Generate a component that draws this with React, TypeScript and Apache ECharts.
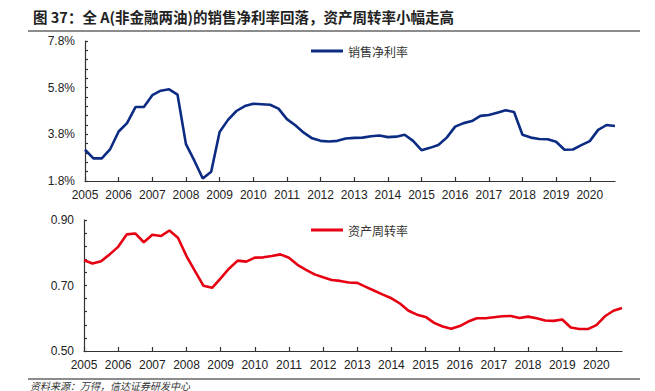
import React, { useEffect, useRef } from "react";
import * as echarts from "echarts";

const years = ["2005","2006","2007","2008","2009","2010","2011","2012","2013","2014","2015","2016","2017","2018","2019","2020"];
const quarters: string[] = [];
years.forEach((y) => ["Q1", "Q2", "Q3", "Q4"].forEach((q) => quarters.push(y + q)));

const netMargin = [
  3.14, 2.77, 2.77, 3.17, 3.92, 4.28, 4.97, 4.97,
  5.48, 5.67, 5.73, 5.50, 3.38, 2.67, 1.91, 2.20,
  3.90, 4.42, 4.80, 5.01, 5.11, 5.09, 5.07, 4.90,
  4.45, 4.19, 3.87, 3.63, 3.52, 3.49, 3.52, 3.62,
  3.65, 3.66, 3.72, 3.75, 3.68, 3.70, 3.78, 3.52,
  3.12, 3.22, 3.34, 3.66, 4.13, 4.28, 4.37, 4.59,
  4.63, 4.73, 4.83, 4.76, 3.78, 3.66, 3.60, 3.59,
  3.48, 3.14, 3.15, 3.34, 3.51, 3.99, 4.20, 4.16,
];

const assetTurnover = [
  0.777, 0.767, 0.774, 0.795, 0.818, 0.856, 0.859, 0.832,
  0.855, 0.851, 0.868, 0.846, 0.790, 0.744, 0.699, 0.693,
  0.722, 0.752, 0.776, 0.773, 0.785, 0.786, 0.790, 0.795,
  0.785, 0.763, 0.748, 0.734, 0.725, 0.717, 0.714, 0.709,
  0.708, 0.696, 0.684, 0.672, 0.661, 0.645, 0.623, 0.611,
  0.604, 0.586, 0.575, 0.568, 0.576, 0.590, 0.600, 0.600,
  0.603, 0.606, 0.607, 0.601, 0.605, 0.600, 0.593, 0.592,
  0.596, 0.572, 0.567, 0.567, 0.579, 0.606, 0.623, 0.631,
];

const topLabels = [1.8, 3.8, 5.8, 7.8];
const topTicks = [1.8, 2.2, 2.6, 3.0, 3.4, 3.8, 4.2, 4.6, 5.0, 5.4, 5.8, 6.2, 6.6, 7.0, 7.4, 7.8];
const bottomLabels = [0.5, 0.7, 0.9];
const bottomTicks = [0.5, 0.54, 0.58, 0.62, 0.66, 0.7, 0.74, 0.78, 0.82, 0.86, 0.9];

const title = "图 37：全 A(非金融两油)的销售净利率回落，资产周转率小幅走高";
const source = "资料来源：万得，信达证券研发中心";
const seriesNames = ["销售净利率", "资产周转率"];

const CJK = '"Noto Sans CJK SC", sans-serif';
const NUM = '"Liberation Sans", Arial, sans-serif';

export default function App() {
  const ref = useRef<HTMLDivElement>(null);
  useEffect(() => {
    if (!ref.current) return;
    const chart = echarts.init(ref.current, undefined, { renderer: "svg" });
    const axisLineStyle = { color: "#333", width: 1.2 };
    const xAxisCommon = (gridIndex: number) => ({
      type: "category",
      gridIndex,
      data: quarters,
      boundaryGap: false,
      axisLine: { lineStyle: axisLineStyle },
      axisTick: { inside: true, length: 4, interval: 3, lineStyle: axisLineStyle },
      axisLabel: {
        interval: 3,
        margin: 8,
        color: "#222",
        fontSize: 12,
        fontFamily: NUM,
        formatter: (v: string) => v.slice(0, 4),
      },
      splitLine: { show: false },
    });
    const legendCommon = {
      left: 306,
      icon: "rect",
      itemWidth: 32,
      itemHeight: 3,
      itemGap: 6,
      textStyle: { fontSize: 12, color: "#333", fontFamily: CJK },
    };
    chart.setOption({
      animation: false,
      backgroundColor: "#fff",
      grid: [
        { left: 85, right: 40, top: 41, height: 140 },
        { left: 84, right: 33, top: 220, height: 131 },
      ],
      legend: [
        { ...legendCommon, data: [seriesNames[0]], top: 40 },
        { ...legendCommon, data: [seriesNames[1]], top: 219 },
      ],
      xAxis: [xAxisCommon(0), xAxisCommon(1)],
      yAxis: [
        {
          type: "value",
          gridIndex: 0,
          min: 1.8,
          max: 7.8,
          axisLine: { show: true, lineStyle: axisLineStyle },
          axisTick: { show: true, inside: true, length: 3, customValues: topTicks, lineStyle: axisLineStyle },
          axisLabel: {
            customValues: topLabels,
            margin: 10,
            color: "#222",
            fontSize: 12,
            fontFamily: NUM,
            formatter: (v: number) => v.toFixed(1) + "%",
          },
          splitLine: { show: false },
        },
        {
          type: "value",
          gridIndex: 1,
          min: 0.5,
          max: 0.9,
          axisLine: { show: true, lineStyle: axisLineStyle },
          axisTick: { show: true, inside: true, length: 3, customValues: bottomTicks, lineStyle: axisLineStyle },
          axisLabel: {
            customValues: bottomLabels,
            margin: 10,
            color: "#222",
            fontSize: 12,
            fontFamily: NUM,
            formatter: (v: number) => v.toFixed(2),
          },
          splitLine: { show: false },
        },
      ],
      series: [
        {
          name: seriesNames[0],
          type: "line",
          xAxisIndex: 0,
          yAxisIndex: 0,
          data: netMargin,
          showSymbol: false,
          itemStyle: { color: "#0c2c84" },
          lineStyle: { color: "#0c2c84", width: 2.6 },
        },
        {
          name: seriesNames[1],
          type: "line",
          xAxisIndex: 1,
          yAxisIndex: 1,
          data: assetTurnover,
          showSymbol: false,
          itemStyle: { color: "#e60012" },
          lineStyle: { color: "#e60012", width: 2.6 },
        },
      ],
      graphic: [
        {
          type: "text",
          left: 33,
          top: 9,
          style: {
            text: title,
            fontSize: 14.5,
            fontWeight: "bold",
            fontFamily: CJK,
            fill: "#222",
          },
        },
        {
          type: "line",
          shape: { x1: 28, y1: 31, x2: 640, y2: 31 },
          style: { stroke: "#666", lineWidth: 1.5 },
        },
        {
          type: "line",
          shape: { x1: 28, y1: 379, x2: 640, y2: 379 },
          style: { stroke: "#666", lineWidth: 1.5 },
        },
        {
          type: "text",
          left: 30,
          top: 380,
          style: {
            text: source,
            fontSize: 10,
            fontStyle: "italic",
            fontFamily: CJK,
            fill: "#333",
          },
        },
      ],
    });
    return () => chart.dispose();
  }, []);
  return (
    <div
      ref={ref}
      style={{ width: 655, height: 391, position: "absolute", left: 0, top: 0 }}
    />
  );
}
